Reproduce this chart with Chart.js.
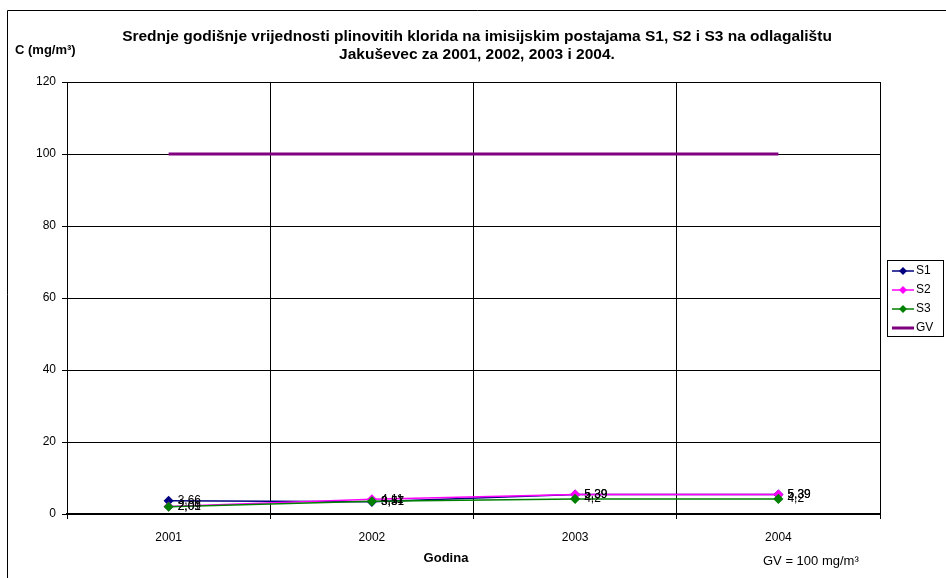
<!DOCTYPE html>
<html>
<head>
<meta charset="utf-8">
<script src="https://cdn.jsdelivr.net/npm/chart.js@4"></script>
<style>
  html, body { margin: 0; padding: 0; background: #fff; }
  #wrap { width: 946px; height: 578px; }
</style>
</head>
<body>
<div id="wrap"><canvas id="c" width="946" height="578"></canvas></div>
<script>
// chart data
const years = ["2001", "2002", "2003", "2004"];
const s1 = [3.66, 3.37, 5.39, 5.39];
const s2 = [2.09, 4.11, 5.39, 5.39];
const s3 = [2.01, 3.51, 4.2, 4.2];
const gv = [100, 100, 100, 100];
const yTicks = [0, 20, 40, 60, 80, 100, 120];

const FONT = "Arial, 'Liberation Sans', sans-serif";

const fmt = v => String(v).replace(".", ",");

// value labels next to S1-S3 points, Excel style
const valueLabels = {
  id: "valueLabels",
  afterDatasetsDraw(chart) {
    const ctx = chart.ctx;
    ctx.save();
    ctx.font = "12px " + FONT;
    ctx.fillStyle = "#000";
    ctx.textBaseline = "middle";
    ctx.textAlign = "left";
    chart.data.datasets.forEach((ds, i) => {
      if (ds.label === "GV") return;
      chart.getDatasetMeta(i).data.forEach((pt, j) => {
        ctx.fillText(fmt(ds.data[j]), pt.x + 9, pt.y);
      });
    });
    ctx.restore();
  }
};

// frame, titles, legend
const decor = {
  id: "decor",
  afterDraw(chart) {
    const ctx = chart.ctx;
    const area = chart.chartArea;
    ctx.save();
    // outer frame
    ctx.strokeStyle = "#000";
    ctx.lineWidth = 1;
    ctx.beginPath();
    ctx.moveTo(7.5, 580);
    ctx.lineTo(7.5, 10.5);
    ctx.lineTo(948, 10.5);
    ctx.stroke();

    // plot border
    ctx.strokeRect(area.left + 0.5, area.top + 0.5, area.right - area.left, area.bottom - area.top);

    // title
    ctx.fillStyle = "#000";
    ctx.textAlign = "center";
    ctx.textBaseline = "middle";
    ctx.font = "bold 15.5px " + FONT;
    ctx.fillText("Srednje godišnje vrijednosti plinovitih klorida na imisijskim postajama S1, S2 i S3 na odlagalištu", 477, 37);
    ctx.fillText("Jakuševec za 2001, 2002, 2003 i 2004.", 477, 55);

    // axis titles
    ctx.font = "bold 13px " + FONT;
    ctx.textAlign = "left";
    ctx.fillText("C (mg/m³)", 15, 50);
    ctx.textAlign = "center";
    ctx.fillText("Godina", 446, 558);
    ctx.font = "13px " + FONT;
    ctx.textAlign = "left";
    ctx.fillText("GV = 100 mg/m³", 763, 561);

    // legend
    const lx = 887, ly = 260, lw = 56, lh = 76;
    ctx.fillStyle = "#fff";
    ctx.fillRect(lx, ly, lw, lh);
    ctx.strokeStyle = "#000";
    ctx.lineWidth = 1;
    ctx.strokeRect(lx + 0.5, ly + 0.5, lw, lh);
    chart.data.datasets.forEach((ds, i) => {
      const y = ly + 11 + i * 19;
      ctx.strokeStyle = ds.borderColor;
      ctx.lineWidth = ds.borderWidth;
      ctx.beginPath();
      ctx.moveTo(lx + 5, y);
      ctx.lineTo(lx + 27, y);
      ctx.stroke();
      if (ds.pointRadius > 0) {
        ctx.fillStyle = ds.borderColor;
        ctx.beginPath();
        ctx.moveTo(lx + 16, y - 4);
        ctx.lineTo(lx + 20, y);
        ctx.lineTo(lx + 16, y + 4);
        ctx.lineTo(lx + 12, y);
        ctx.closePath();
        ctx.fill();
      }
      ctx.fillStyle = "#000";
      ctx.font = "12px " + FONT;
      ctx.textAlign = "left";
      ctx.textBaseline = "middle";
      ctx.fillText(ds.label, lx + 29, y);
    });
    ctx.restore();
  }
};

const series = (label, data, color, order) => ({
  label, data, order,
  borderColor: color,
  backgroundColor: color,
  borderWidth: 1.5,
  pointStyle: "rectRot",
  pointRadius: 4,
  pointHoverRadius: 4,
  tension: 0
});

new Chart(document.getElementById("c"), {
  type: "line",
  data: {
    labels: years,
    datasets: [
      series("S1", s1, "#000080", 3),
      series("S2", s2, "#FF00FF", 2),
      series("S3", s3, "#008000", 1),
      {
        label: "GV", data: gv, order: 4,
        borderColor: "#800080", backgroundColor: "#800080",
        borderWidth: 3, pointRadius: 0, pointHoverRadius: 0
      }
    ]
  },
  options: {
    responsive: false,
    animation: false,
    events: [],
    layout: { padding: { left: 7, top: 82, right: 66, bottom: 0 } },
    plugins: {
      legend: { display: false },
      title: { display: false },
      tooltip: { enabled: false }
    },
    scales: {
      x: {
        offset: true,
        grid: { offset: true, color: "#000", lineWidth: 1, tickLength: 5, drawOnChartArea: true },
        border: { color: "#000", width: 2 },
        ticks: { color: "#000", font: { family: FONT, size: 12 }, padding: 11, maxRotation: 0 },
        afterFit(scale) { scale.height = 64; }
      },
      y: {
        min: 0, max: 120,
        afterBuildTicks(scale) { scale.ticks = yTicks.map(v => ({ value: v })); },
        grid: { color: "#000", lineWidth: 1, tickLength: 5 },
        border: { color: "#000", width: 1 },
        ticks: { color: "#000", font: { family: FONT, size: 12 }, padding: 6 },
        afterFit(scale) { scale.width = 60; }
      }
    }
  },
  plugins: [valueLabels, decor]
});
</script>
</body>
</html>
